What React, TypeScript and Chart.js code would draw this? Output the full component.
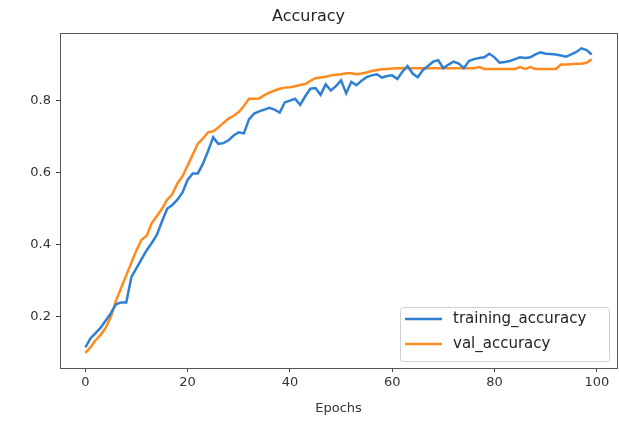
import React, { useEffect, useRef } from "react";
import { Chart, registerables } from "chart.js";

Chart.register(...registerables);

const epochs: number[] = Array.from({ length: 100 }, (_, i) => i);

const trainingAccuracy: number[] = [
  0.115, 0.14, 0.155, 0.17, 0.19, 0.21, 0.235, 0.24, 0.24, 0.31,
  0.335, 0.36, 0.385, 0.405, 0.428, 0.465, 0.5, 0.51, 0.525, 0.545,
  0.58, 0.598, 0.598, 0.625, 0.66, 0.698, 0.68, 0.682, 0.69, 0.703,
  0.712, 0.709, 0.748, 0.764, 0.77, 0.775, 0.78, 0.775, 0.767, 0.795,
  0.8, 0.805, 0.788, 0.812, 0.833, 0.835, 0.816, 0.845, 0.828, 0.84,
  0.856, 0.82, 0.852, 0.843, 0.855, 0.865, 0.87, 0.873, 0.864, 0.868,
  0.87, 0.86, 0.88, 0.896, 0.875, 0.865, 0.885, 0.896, 0.908, 0.912,
  0.89, 0.9, 0.908, 0.903, 0.89, 0.91, 0.915, 0.918, 0.92, 0.93,
  0.92, 0.905, 0.907, 0.91, 0.915, 0.92, 0.918, 0.92, 0.928, 0.934,
  0.93, 0.929, 0.928, 0.925, 0.922, 0.928, 0.935, 0.945, 0.94, 0.928,
];

const valAccuracy: number[] = [
  0.1, 0.115, 0.135, 0.15, 0.17, 0.2, 0.245, 0.28, 0.315, 0.35,
  0.385, 0.414, 0.425, 0.46, 0.48, 0.5, 0.525, 0.54, 0.57, 0.59,
  0.62, 0.65, 0.68, 0.695, 0.712, 0.715, 0.725, 0.738, 0.75, 0.758,
  0.768, 0.785, 0.805, 0.805, 0.806, 0.815, 0.822, 0.828, 0.833, 0.836,
  0.837, 0.84, 0.843, 0.846, 0.855, 0.862, 0.864, 0.866, 0.87, 0.872,
  0.873, 0.876, 0.876, 0.873, 0.875, 0.878, 0.882, 0.885, 0.887, 0.888,
  0.889, 0.89, 0.89, 0.89, 0.89, 0.89, 0.89, 0.89, 0.89, 0.89,
  0.89, 0.89, 0.89, 0.89, 0.89, 0.89, 0.89, 0.893, 0.888, 0.888,
  0.888, 0.888, 0.888, 0.888, 0.888, 0.893, 0.888, 0.893, 0.888, 0.888,
  0.888, 0.888, 0.888, 0.9, 0.9, 0.901, 0.902, 0.902, 0.905, 0.915,
];

const xTicks: number[] = [0, 20, 40, 60, 80, 100];
const yTicks: number[] = [0.2, 0.4, 0.6, 0.8];

const titleText = "Accuracy";
const xTitle = "Epochs";
const seriesLabels: string[] = ["training_accuracy", "val_accuracy"];
const seriesColors: string[] = ["#2f80d2", "#ff8b1f"];

const FONT = "'DejaVu Sans', sans-serif";

const framePlugin = {
  id: "frame",
  afterDatasetsDraw(chart: any) {
    const { ctx, chartArea } = chart;
    ctx.save();
    ctx.strokeStyle = "#555";
    ctx.lineWidth = 1;
    ctx.strokeRect(
      Math.round(chartArea.left) + 0.5,
      Math.round(chartArea.top) + 0.5,
      Math.round(chartArea.right - chartArea.left),
      Math.round(chartArea.bottom - chartArea.top)
    );
    ctx.restore();
  },
};

const legendPlugin = {
  id: "innerLegend",
  afterDraw(chart: any) {
    const { ctx, chartArea } = chart;
    const w = 209;
    const h = 54;
    const x = chartArea.right - 8 - w;
    const y = chartArea.bottom - 7 - h;
    ctx.save();
    ctx.fillStyle = "rgba(255,255,255,0.85)";
    ctx.strokeStyle = "#d0d0d0";
    ctx.lineWidth = 1;
    ctx.beginPath();
    if (ctx.roundRect) ctx.roundRect(x + 0.5, y + 0.5, w, h, 3);
    else ctx.rect(x + 0.5, y + 0.5, w, h);
    ctx.fill();
    ctx.stroke();
    chart.data.datasets.forEach((ds: any, i: number) => {
      const ly = y + 12 + i * 25;
      ctx.strokeStyle = ds.borderColor;
      ctx.lineWidth = 2.5;
      ctx.beginPath();
      ctx.moveTo(x + 5, ly);
      ctx.lineTo(x + 42, ly);
      ctx.stroke();
      ctx.fillStyle = "#222";
      ctx.font = `15px ${FONT}`;
      ctx.textBaseline = "middle";
      ctx.textAlign = "left";
      ctx.fillText(ds.label, x + 53, ly);
    });
    ctx.restore();
  },
};

export default function App() {
  const canvasRef = useRef<HTMLCanvasElement | null>(null);

  useEffect(() => {
    document.body.style.margin = "0";
    const canvas = canvasRef.current;
    if (!canvas) return;
    const chart = new Chart(canvas, {
      type: "line",
      data: {
        datasets: [
          {
            label: seriesLabels[0],
            data: epochs.map((e, i) => ({ x: e, y: trainingAccuracy[i] })),
            borderColor: seriesColors[0],
            backgroundColor: seriesColors[0],
            borderWidth: 2.5,
            pointRadius: 0,
            tension: 0,
          },
          {
            label: seriesLabels[1],
            data: epochs.map((e, i) => ({ x: e, y: valAccuracy[i] })),
            borderColor: seriesColors[1],
            backgroundColor: seriesColors[1],
            borderWidth: 2.5,
            pointRadius: 0,
            tension: 0,
          },
        ],
      },
      options: {
        animation: false,
        responsive: false,
        maintainAspectRatio: false,
        layout: { padding: { left: 0, right: 2, top: 0, bottom: 0 } },
        plugins: {
          legend: { display: false },
          tooltip: { enabled: false },
          title: {
            display: true,
            text: titleText,
            color: "#222",
            font: { family: FONT, size: 16, weight: "normal" },
            padding: { top: 7, bottom: 7 },
          },
        },
        scales: {
          x: {
            type: "linear",
            min: -4.95,
            max: 103.95,
            afterBuildTicks: (scale: any) => {
              scale.ticks = xTicks.map((v) => ({ value: v }));
            },
            afterFit: (scale: any) => {
              scale.height = 53;
            },
            border: { display: false },
            grid: {
              drawOnChartArea: false,
              drawTicks: true,
              tickLength: 4,
              color: "#444",
            },
            ticks: {
              color: "#333",
              font: { family: FONT, size: 13 },
              padding: 3,
              maxRotation: 0,
              callback: (v: any) => String(v),
            },
            title: {
              display: true,
              text: xTitle,
              color: "#333",
              font: { family: FONT, size: 13 },
              padding: { top: 0, bottom: 5 },
            },
          },
          y: {
            type: "linear",
            min: 0.058,
            max: 0.987,
            afterBuildTicks: (scale: any) => {
              scale.ticks = yTicks.map((v) => ({ value: v }));
            },
            afterFit: (scale: any) => {
              scale.width = 60;
            },
            border: { display: false },
            grid: {
              drawOnChartArea: false,
              drawTicks: true,
              tickLength: 4,
              color: "#444",
            },
            ticks: {
              color: "#333",
              font: { family: FONT, size: 13 },
              padding: 5,
              callback: (v: any) => Number(v).toFixed(1),
            },
          },
        },
      },
      plugins: [framePlugin, legendPlugin],
    });
    return () => chart.destroy();
  }, []);

  return (
    <div style={{ width: 619, height: 421 }}>
      <canvas ref={canvasRef} width={619} height={421} />
    </div>
  );
}
